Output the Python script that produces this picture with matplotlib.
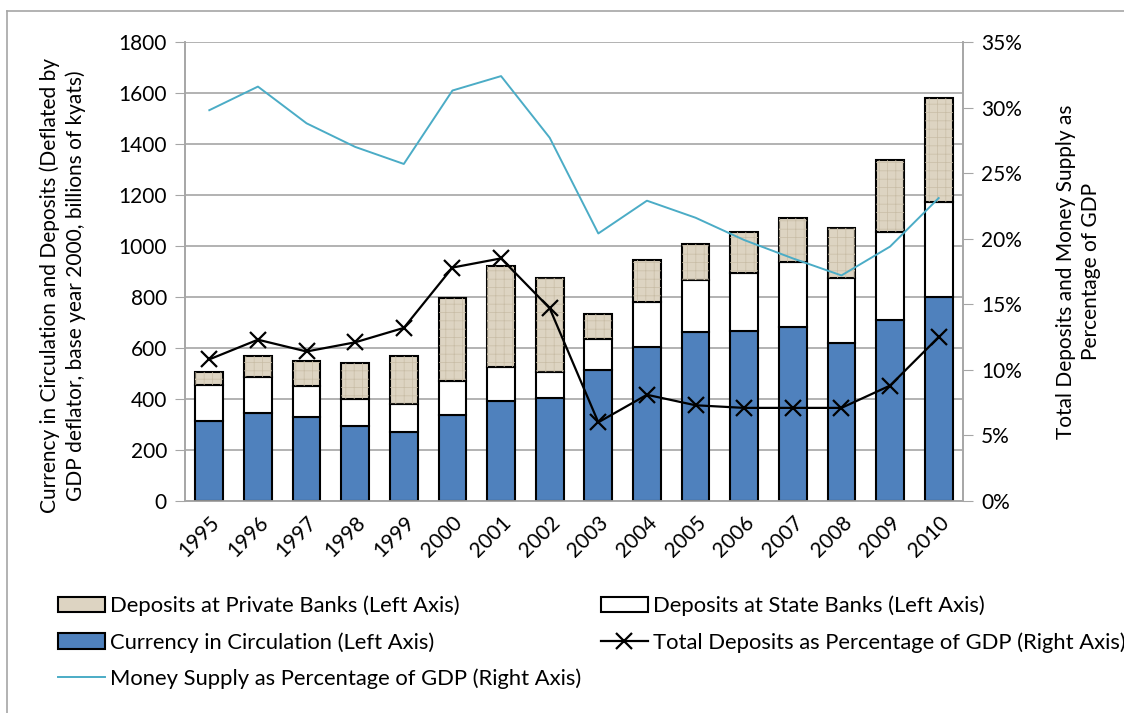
import numpy as np
import matplotlib.pyplot as plt
from matplotlib.lines import Line2D
from matplotlib.ticker import PercentFormatter

years = ["1995", "1996", "1997", "1998", "1999", "2000", "2001", "2002",
         "2003", "2004", "2005", "2006", "2007", "2008", "2009", "2010"]

# billions of kyats, deflated (left axis)
currency = [315, 344, 331, 294, 272, 337, 393, 403, 514, 605, 661, 668, 684, 618, 710, 801]
state_dep = [140, 141, 120, 106, 107, 135, 134, 104, 120, 177, 206, 225, 252, 255, 346, 373]
private_dep = [52, 85, 98, 142, 191, 324, 394, 366, 98, 163, 140, 163, 175, 196, 281, 408]

# percent of GDP (right axis)
money_supply = [29.8, 31.6, 28.8, 27.0, 25.7, 31.3, 32.4, 27.7,
                20.4, 22.9, 21.6, 19.9, 18.5, 17.2, 19.4, 23.1]
total_deposits = [10.8, 12.3, 11.4, 12.1, 13.2, 17.8, 18.5, 14.7,
                  6.0, 8.1, 7.3, 7.1, 7.1, 7.1, 8.8, 12.5]

blue = "#4f81bd"
beige = "#ddd4c2"
cyan = "#4bacc6"
grid_grey = "#a6a6a6"
tick_font = "Lato"

x = np.arange(len(years))
currency = np.array(currency)
state_dep = np.array(state_dep)
private_dep = np.array(private_dep)

fig = plt.figure(figsize=(11.24, 7.13), dpi=100)
ax = fig.add_axes([185 / 1124, 1 - 501 / 713, 778 / 1124, 459 / 713])
ax2 = ax.twinx()

w = 0.57
b_cur = ax.bar(x, currency, w, color=blue, edgecolor="black", linewidth=1.5, zorder=3,
               label="Currency in Circulation (Left Axis)")
b_state = ax.bar(x, state_dep, w, bottom=currency, color="white", edgecolor="black",
                 linewidth=1.5, zorder=3, label="Deposits at State Banks (Left Axis)")
b_priv = ax.bar(x, private_dep, w, bottom=currency + state_dep, color=beige,
                edgecolor="black", linewidth=1.5, zorder=3,
                label="Deposits at Private Banks (Left Axis)")
# fine texture on the private bank segments
plt.rcParams["hatch.linewidth"] = 0.5
ax.bar(x, private_dep, w, bottom=currency + state_dep, fill=False, edgecolor="#c8bda6",
       linewidth=0, hatch="++", zorder=4)

ax.set_ylim(0, 1800)
ax.set_yticks(range(0, 1801, 200))
ax.set_xlim(-0.5, len(years) - 0.5)
ax.set_xticks(x)
ax.set_xticklabels(years, rotation=45, ha="right", rotation_mode="anchor",
                   fontsize=15, family=tick_font)
ax.yaxis.grid(True, color=grid_grey, linewidth=1.2, zorder=0)
ax.set_axisbelow(True)
for lab in ax.get_yticklabels():
    lab.set_family(tick_font)
    lab.set_fontsize(15)
ax.tick_params(axis="y", length=7, color=grid_grey, pad=6)
ax.tick_params(axis="x", length=0, pad=8)

l_money, = ax2.plot(x, money_supply, color=cyan, linewidth=1.4, zorder=5,
                    label="Money Supply as Percentage of GDP (Right Axis)")
l_dep, = ax2.plot(x, total_deposits, color="black", linewidth=1.6, marker="x",
                  markersize=11, markeredgewidth=1.6, zorder=5,
                  label="Total Deposits as Percentage of GDP (Right Axis)")
ax2.set_ylim(0, 35)
ax2.set_yticks(range(0, 36, 5))
ax2.yaxis.set_major_formatter(PercentFormatter(decimals=0))
for lab in ax2.get_yticklabels():
    lab.set_family(tick_font)
    lab.set_fontsize(15)
ax2.tick_params(axis="y", length=7, color=grid_grey, pad=6)

for a in (ax, ax2):
    a.spines["top"].set_visible(False)
    for s in ("left", "right", "bottom"):
        a.spines[s].set_color(grid_grey)
        a.spines[s].set_linewidth(1.2)

ax.set_ylabel("Currency in Circulation and Deposits (Deflated by\n"
              "GDP deflator, base year 2000, billions of kyats)",
              fontsize=15, family=tick_font, linespacing=1.35)
ax.yaxis.set_label_coords(-0.127, 0.47)
ax2.set_ylabel("Total Deposits and Money Supply as\nPercentage of GDP",
               fontsize=15, family=tick_font, rotation=90, linespacing=1.3)
ax2.yaxis.set_label_coords(1.12, 0.5)

handles = [b_priv, b_cur, l_money, b_state, l_dep]
fig.legend(handles=handles, labels=[h.get_label() for h in handles], ncol=2,
           loc="upper left", bbox_to_anchor=(49 / 1124, 1 - 587 / 713),
           frameon=False, prop={"family": tick_font, "size": 15.8},
           handlelength=2.15, handletextpad=0.22, labelspacing=0.72,
           columnspacing=0.9, borderaxespad=0)

# outer chart border (cropped on the right and bottom)
fig.add_artist(Line2D([7 / 1124, 7 / 1124], [0, 1 - 11 / 713], transform=fig.transFigure,
                      color=grid_grey, linewidth=1.2))
fig.add_artist(Line2D([7 / 1124, 1], [1 - 11 / 713, 1 - 11 / 713], transform=fig.transFigure,
                      color=grid_grey, linewidth=1.2))

fig.savefig("out.png", dpi=100)
